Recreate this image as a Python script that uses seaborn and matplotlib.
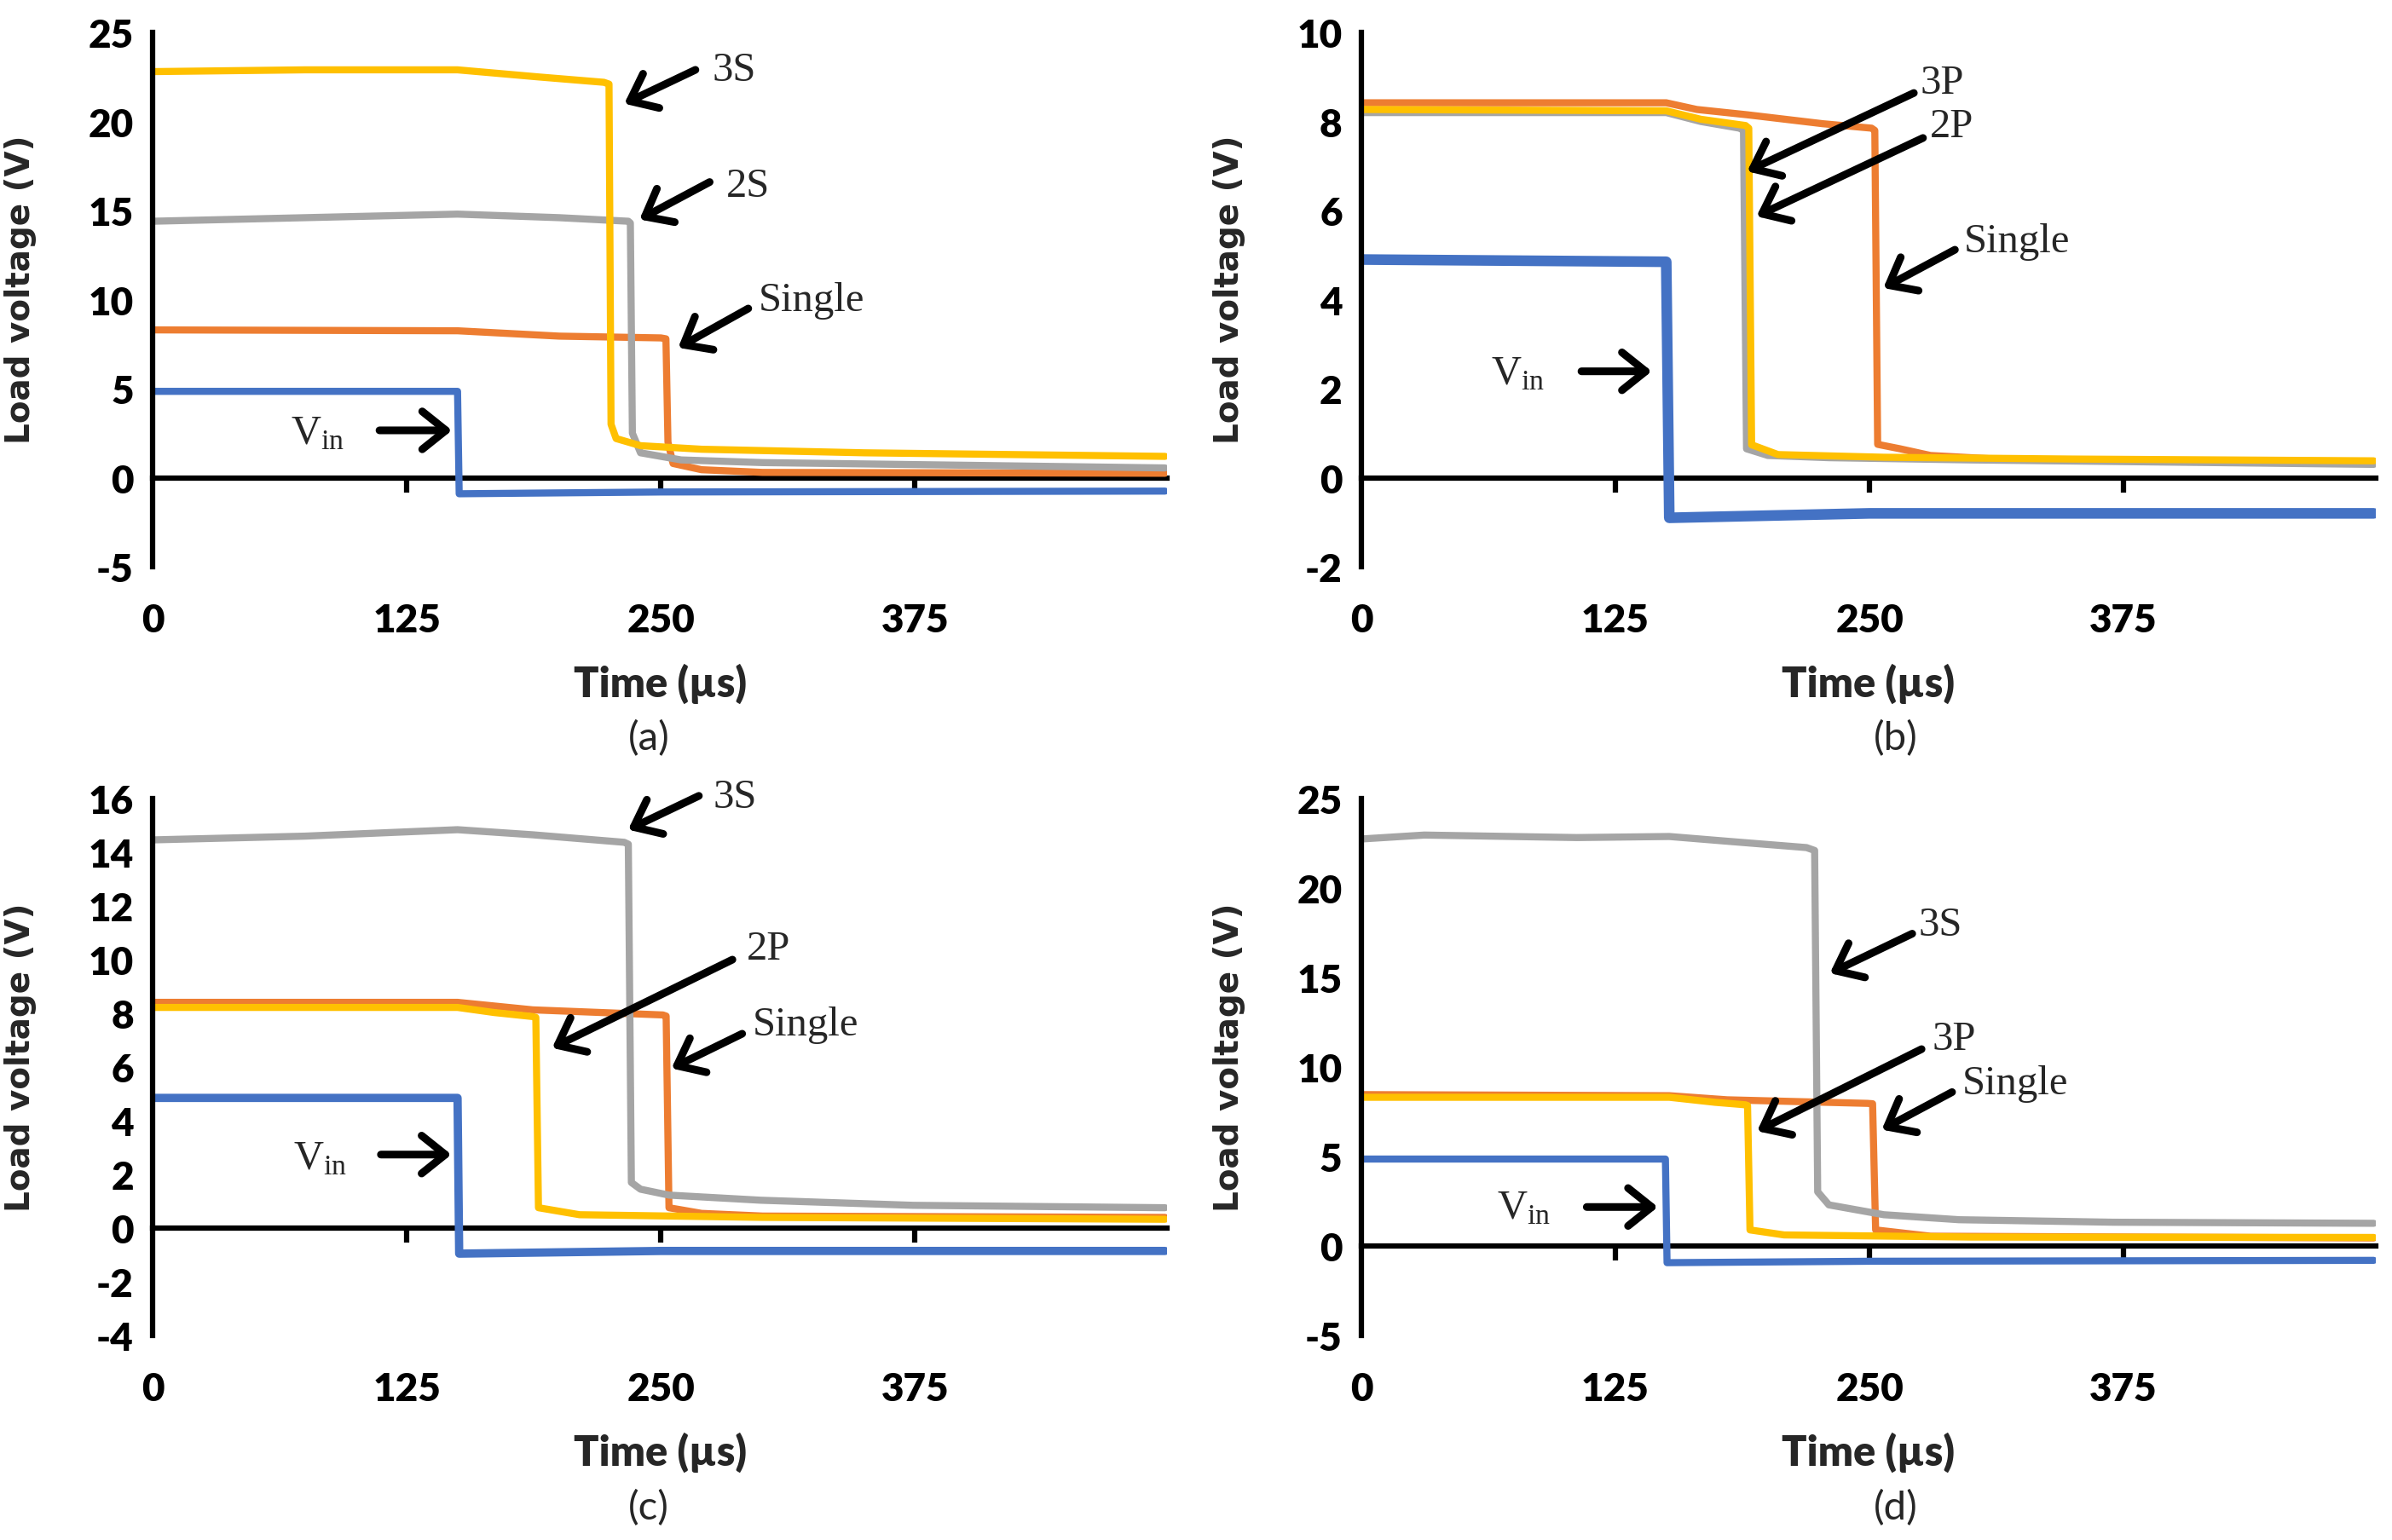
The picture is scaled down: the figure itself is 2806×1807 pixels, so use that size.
import numpy as np
import pandas as pd
import matplotlib
matplotlib.use('Agg')
import matplotlib.pyplot as plt
from matplotlib.ticker import NullFormatter
import seaborn as sns

# (a) series connection
a_vin_t = [0, 150, 150.8, 250, 498]
a_vin_v = [4.85, 4.85, -0.9, -0.8, -0.75]
a_single_t = [0, 150, 200, 250, 252.5, 253.5, 256, 270, 300, 498]
a_single_v = [8.3, 8.25, 7.95, 7.85, 7.8, 2.0, 0.8, 0.45, 0.3, 0.25]
a_2s_t = [0, 75, 150, 200, 234, 235, 236, 240, 260, 300, 400, 498]
a_2s_v = [14.4, 14.6, 14.8, 14.6, 14.4, 14.3, 2.5, 1.4, 1.0, 0.85, 0.7, 0.55]
a_3s_t = [0, 75, 150, 190, 222, 224.5, 225.5, 228, 240, 270, 350, 498]
a_3s_v = [22.8, 22.9, 22.9, 22.5, 22.2, 22.1, 3.0, 2.2, 1.8, 1.6, 1.4, 1.2]

# (b) parallel connection
b_vin_t = [0, 150, 151.5, 250, 498]
b_vin_v = [4.9, 4.85, -0.9, -0.8, -0.8]
b_single_t = [0, 150, 165, 190, 227, 251, 252.6, 254, 265, 280, 320, 498]
b_single_v = [8.42, 8.42, 8.27, 8.15, 7.95, 7.85, 7.8, 0.75, 0.65, 0.5, 0.4, 0.35]
b_3p_t = [0, 150, 167, 186, 188, 189.5, 200, 230, 300, 498]
b_3p_v = [8.2, 8.2, 8.0, 7.85, 7.8, 0.65, 0.5, 0.45, 0.4, 0.3]
b_2p_t = [0, 150, 167, 189, 190.6, 192, 205, 257, 350, 498]
b_2p_v = [8.27, 8.24, 8.05, 7.91, 7.85, 0.74, 0.52, 0.46, 0.42, 0.38]

# (c) mixed 3S / 2P
c_vin_t = [0, 150, 150.8, 250, 498]
c_vin_v = [4.85, 4.85, -0.95, -0.85, -0.85]
c_single_t = [0, 150, 187, 251, 252.6, 254, 270, 300, 498]
c_single_v = [8.41, 8.41, 8.13, 7.94, 7.9, 0.76, 0.55, 0.45, 0.4]
c_3s_t = [0, 75, 150, 187, 232, 234, 235.5, 240, 254, 299, 374, 498]
c_3s_v = [14.46, 14.6, 14.84, 14.65, 14.37, 14.3, 1.7, 1.45, 1.23, 1.04, 0.85, 0.76]
c_2p_t = [0, 150, 168, 187, 188.5, 189.8, 210, 300, 498]
c_2p_v = [8.22, 8.22, 8.03, 7.88, 7.85, 0.76, 0.5, 0.4, 0.33]

# (d) mixed 3S / 3P
d_vin_t = [0, 149.6, 150.4, 250, 498]
d_vin_v = [4.86, 4.86, -0.93, -0.85, -0.8]
d_single_t = [0, 151.5, 180, 249, 251.5, 253, 280, 498]
d_single_v = [8.46, 8.4, 8.17, 7.97, 7.95, 0.9, 0.55, 0.45]
d_3s_t = [0, 31, 106, 151.5, 181.6, 219, 223, 224.5, 230, 257, 294, 370, 498]
d_3s_v = [22.74, 22.96, 22.82, 22.88, 22.6, 22.26, 22.1, 3.03, 2.3, 1.75, 1.47, 1.33, 1.27]
d_3p_t = [0, 151.5, 174, 189, 190, 191.2, 208, 300, 498]
d_3p_v = [8.31, 8.31, 8.03, 7.89, 7.85, 0.9, 0.62, 0.5, 0.48]

x_ticks = [0, 125, 250, 375]

BLUE, ORANGE, GREY, YELLOW = '#4472C4', '#ED7D31', '#A5A5A5', '#FFC000'

sns.set_style('white')
SANS = ['Lato', 'DejaVu Sans']
SERIF = ['Liberation Serif', 'DejaVu Serif']
plt.rcParams['font.family'] = SANS


def make_frame(series):
    parts = []
    for name, t, v in series:
        parts.append(pd.DataFrame({'time': t, 'voltage': v, 'series': name}))
    return pd.concat(parts, ignore_index=True)


panels = [
    dict(tag='(a)', pos=[0.0638, 0.6316, 0.4241, 0.3468], ylim=(-5, 25), step=5, vin_lw=6,
         series=[('Vin', a_vin_t, a_vin_v, BLUE), ('Single', a_single_t, a_single_v, ORANGE),
                 ('2S', a_2s_t, a_2s_v, GREY), ('3S', a_3s_t, a_3s_v, YELLOW)],
         notes=[('3S', (286, 22.9), (267, 22.9), (232, 21.0)),
                ('2S', (293, 16.4), (274, 16.6), (239.5, 14.5)),
                ('Single', (324, 10.0), (293, 9.5), (258.5, 7.3)),
                ('Vin', (81, 2.5), (111.6, 2.66), (147.3, 2.66))]),
    dict(tag='(b)', pos=[0.5691, 0.6316, 0.4241, 0.3468], ylim=(-2, 10), step=2, vin_lw=9,
         series=[('Vin', b_vin_t, b_vin_v, BLUE), ('Single', b_single_t, b_single_v, ORANGE),
                 ('3P', b_3p_t, b_3p_v, GREY), ('2P', b_2p_t, b_2p_v, YELLOW)],
         notes=[('3P', (285.7, 8.88), (271.8, 8.64), (189.8, 6.88)),
                ('2P', (290.6, 7.89), (276.3, 7.63), (194.4, 5.87)),
                ('Single', (322.6, 5.32), (292, 5.12), (256.8, 4.26)),
                ('Vin', (77, 2.33), (108.3, 2.39), (142.9, 2.39))]),
    dict(tag='(c)', pos=[0.0638, 0.1327, 0.4241, 0.3485], ylim=(-4, 16), step=2, vin_lw=7,
         series=[('Vin', c_vin_t, c_vin_v, BLUE), ('Single', c_single_t, c_single_v, ORANGE),
                 ('3S', c_3s_t, c_3s_v, GREY), ('2P', c_2p_t, c_2p_v, YELLOW)],
         notes=[('3S', (286.3, 16.07), (268.7, 16.1), (233.9, 14.84)),
                ('2P', (303, 10.4), (285.2, 10.0), (196.5, 6.71)),
                ('Single', (321, 7.6), (290, 7.24), (255.2, 5.95)),
                ('Vin', (82.3, 2.6), (112.3, 2.74), (147, 2.74))]),
    dict(tag='(d)', pos=[0.5691, 0.1327, 0.4241, 0.3485], ylim=(-5, 25), step=5, vin_lw=6,
         series=[('Vin', d_vin_t, d_vin_v, BLUE), ('Single', d_single_t, d_single_v, ORANGE),
                 ('3S', d_3s_t, d_3s_v, GREY), ('3P', d_3p_t, d_3p_v, YELLOW)],
         notes=[('3S', (285, 17.96), (271, 17.45), (230.5, 15.24)),
                ('3P', (291.7, 11.57), (275.6, 11.0), (194.7, 6.42)),
                ('Single', (321.8, 9.1), (290.6, 8.6), (256, 6.5)),
                ('Vin', (80, 2.12), (110.9, 2.18), (145.9, 2.18))]),
]

fig = plt.figure(figsize=(28.06, 18.08), dpi=100)

for i, p in enumerate(panels):
    ax = fig.add_axes(p['pos'])
    df = make_frame([(n, t, v) for n, t, v, c in p['series']])
    order = [n for n, t, v, c in p['series']]
    colors = {n: c for n, t, v, c in p['series']}
    sns.lineplot(data=df, x='time', y='voltage', hue='series', hue_order=order,
                 palette=colors, estimator=None, sort=False, legend=False,
                 linewidth=6, ax=ax)
    # the input trace is noisier, draw it a bit fatter
    ax.get_lines()[0].set_linewidth(p['vin_lw'])

    lo, hi = p['ylim']
    yt = np.arange(lo, hi + 0.1, p['step'])
    ax.set_xlim(0, 499)
    ax.set_ylim(lo, hi)
    ax.set_yticks(yt)
    ax.set_yticklabels([f'{int(v)}' for v in yt], fontsize=33, fontweight='heavy')
    ax.tick_params(axis='y', direction='out', length=12, width=4.5, pad=4, colors='black')

    # labels at the bottom, axis line with ticks at zero
    ax.set_xticks(x_ticks)
    ax.set_xticklabels([str(t) for t in x_ticks], fontsize=33, fontweight='heavy')
    ax.tick_params(axis='x', length=0, pad=30, colors='black')
    for s in ['top', 'right', 'bottom']:
        ax.spines[s].set_visible(False)
    ax.spines['left'].set_linewidth(4.5)
    ax.spines['left'].set_color('black')

    zero = (0 - lo) / (hi - lo)
    sec = ax.secondary_xaxis(zero)
    sec.set_xticks(x_ticks[1:])
    sec.xaxis.set_ticks_position('bottom')
    sec.xaxis.set_major_formatter(NullFormatter())
    sec.tick_params(axis='x', which='major', direction='out', length=12, width=4.5,
                    labelbottom=False, labeltop=False, color='black')
    sec.spines['bottom'].set_linewidth(4.5)
    sec.spines['bottom'].set_color('black')
    for s in ['top', 'left', 'right']:
        sec.spines[s].set_visible(False)

    ax.set_ylabel('Load voltage (V)', fontsize=28, fontweight='bold',
                  family=['DejaVu Sans'])
    ax.yaxis.set_label_coords(-0.114, 0.52)
    ax.set_xlabel('Time (µs)', fontsize=35, fontweight='heavy', va='center')
    ax.xaxis.set_label_coords(0.5, -0.217)
    tx = 0.489 if i % 2 == 0 else 0.527
    ax.text(tx, -0.32, p['tag'], transform=ax.transAxes, ha='center', va='center',
            fontsize=34)

    for label, txt, tail, head in p['notes']:
        ax.annotate('', xy=head, xytext=tail,
                    arrowprops=dict(arrowstyle='->,head_length=0.5,head_width=0.4',
                                    lw=6.5, color='black', shrinkA=0, shrinkB=0,
                                    mutation_scale=40))
        s = r'$\mathregular{V_{in}}$' if label == 'Vin' else label
        ax.text(txt[0], txt[1], s, ha='center', va='center', fontsize=35,
                family=SERIF)

fig.savefig('out.png', dpi=100)
